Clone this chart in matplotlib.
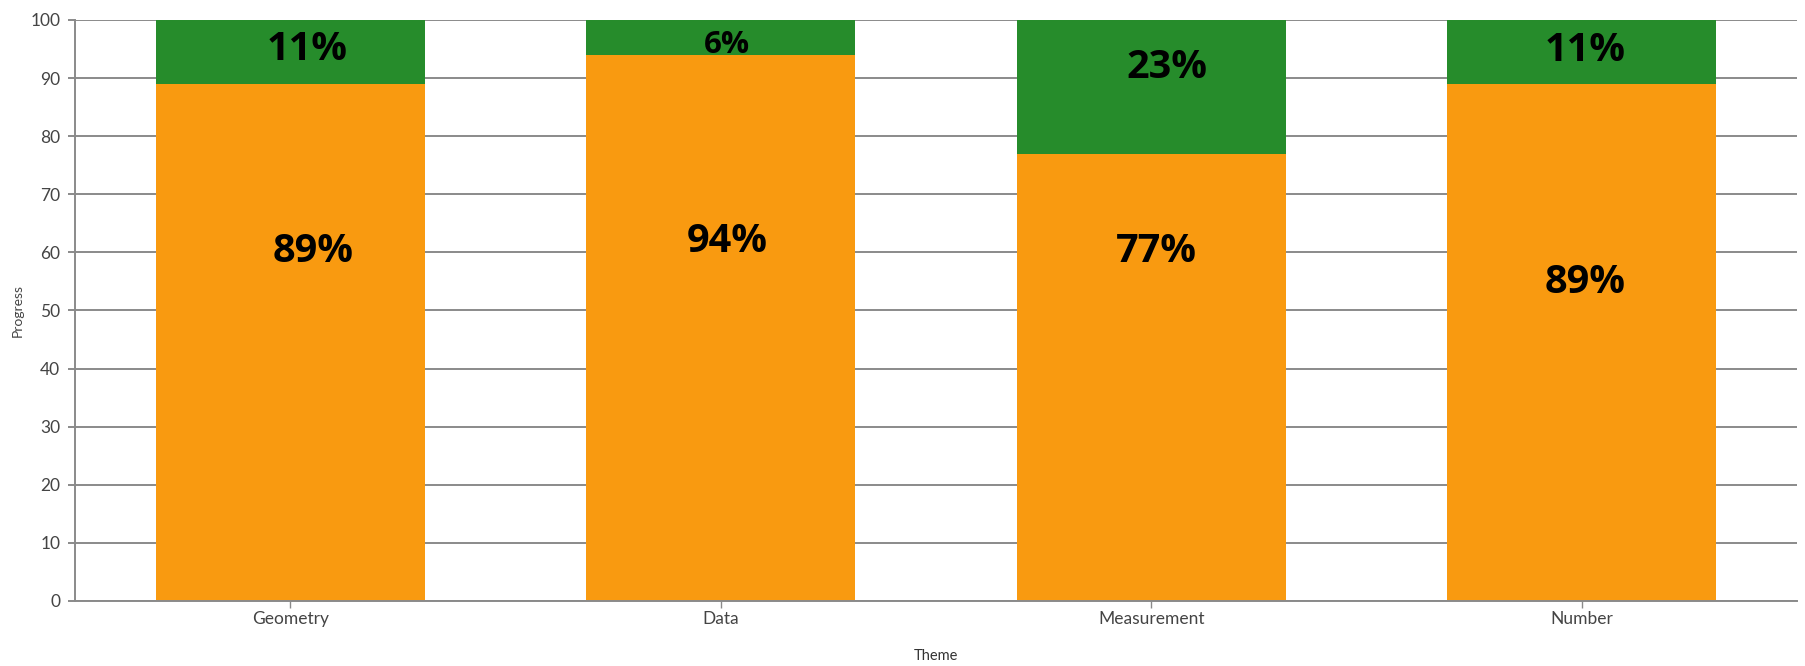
import matplotlib
matplotlib.use("Agg")
import matplotlib.pyplot as plt

# data
themes = ["Geometry", "Data", "Measurement", "Number"]
secure = [89, 94, 77, 89]       # orange, lower segment
not_secure = [11, 6, 23, 11]    # green, upper segment

# where the percentage labels sit (as in the reference)
lower_label_y = [60.2, 61.8, 60.2, 54.9]
upper_label_y = [94.9, 95.7, 91.8, 94.7]
lower_label_dx = [0.054, 0.016, 0.012, 0.009]
upper_label_dx = [0.040, 0.014, 0.037, 0.009]
upper_label_size = [28, 22, 28, 28]

ORANGE = "#F99A10"
GREEN = "#268C2B"
GREY = "#8A8A8A"

plt.rcParams["font.family"] = ["Lato", "DejaVu Sans"]

fig = plt.figure(figsize=(18.06, 6.66), dpi=100)
ax = fig.add_axes([0.0415, 0.0976, 0.9535, 0.8724])

x = list(range(len(themes)))
ax.bar(x, secure, width=0.625, color=ORANGE, zorder=2)
ax.bar(x, not_secure, width=0.625, bottom=secure, color=GREEN, zorder=2)

for i in x:
    ax.text(i + lower_label_dx[i], lower_label_y[i], f"{secure[i]}%",
            ha="center", va="center", fontsize=28.5, fontweight="bold",
            family="Open Sans", color="black", zorder=3)
    ax.text(i + upper_label_dx[i], upper_label_y[i], f"{not_secure[i]}%",
            ha="center", va="center", fontsize=upper_label_size[i] + 0.5,
            fontweight="bold", family="Open Sans", color="black", zorder=3)

ax.set_xlim(-0.5, 3.5)
ax.set_ylim(0, 100)
ax.set_yticks(range(0, 101, 10))
ax.set_xticks(x)
ax.set_xticklabels(themes)

ax.yaxis.grid(True, color=GREY, linewidth=1.4, zorder=1)
ax.set_axisbelow(True)
for side in ["top", "right"]:
    ax.spines[side].set_visible(False)
for side in ["left", "bottom"]:
    ax.spines[side].set_color(GREY)
    ax.spines[side].set_linewidth(1.4)

ax.tick_params(axis="y", length=5, width=1.4, color=GREY, pad=5.5,
               labelsize=12.5, labelcolor="#444444")
ax.tick_params(axis="x", length=5, width=1, color=GREY, pad=2,
               labelsize=12.5, labelcolor="#444444")

ax.set_xlabel("Theme", fontsize=10.5, color="#333333", labelpad=16)
ax.set_ylabel("Progress", fontsize=10, color="#444444", labelpad=5)

fig.savefig("out.png", dpi=100)
